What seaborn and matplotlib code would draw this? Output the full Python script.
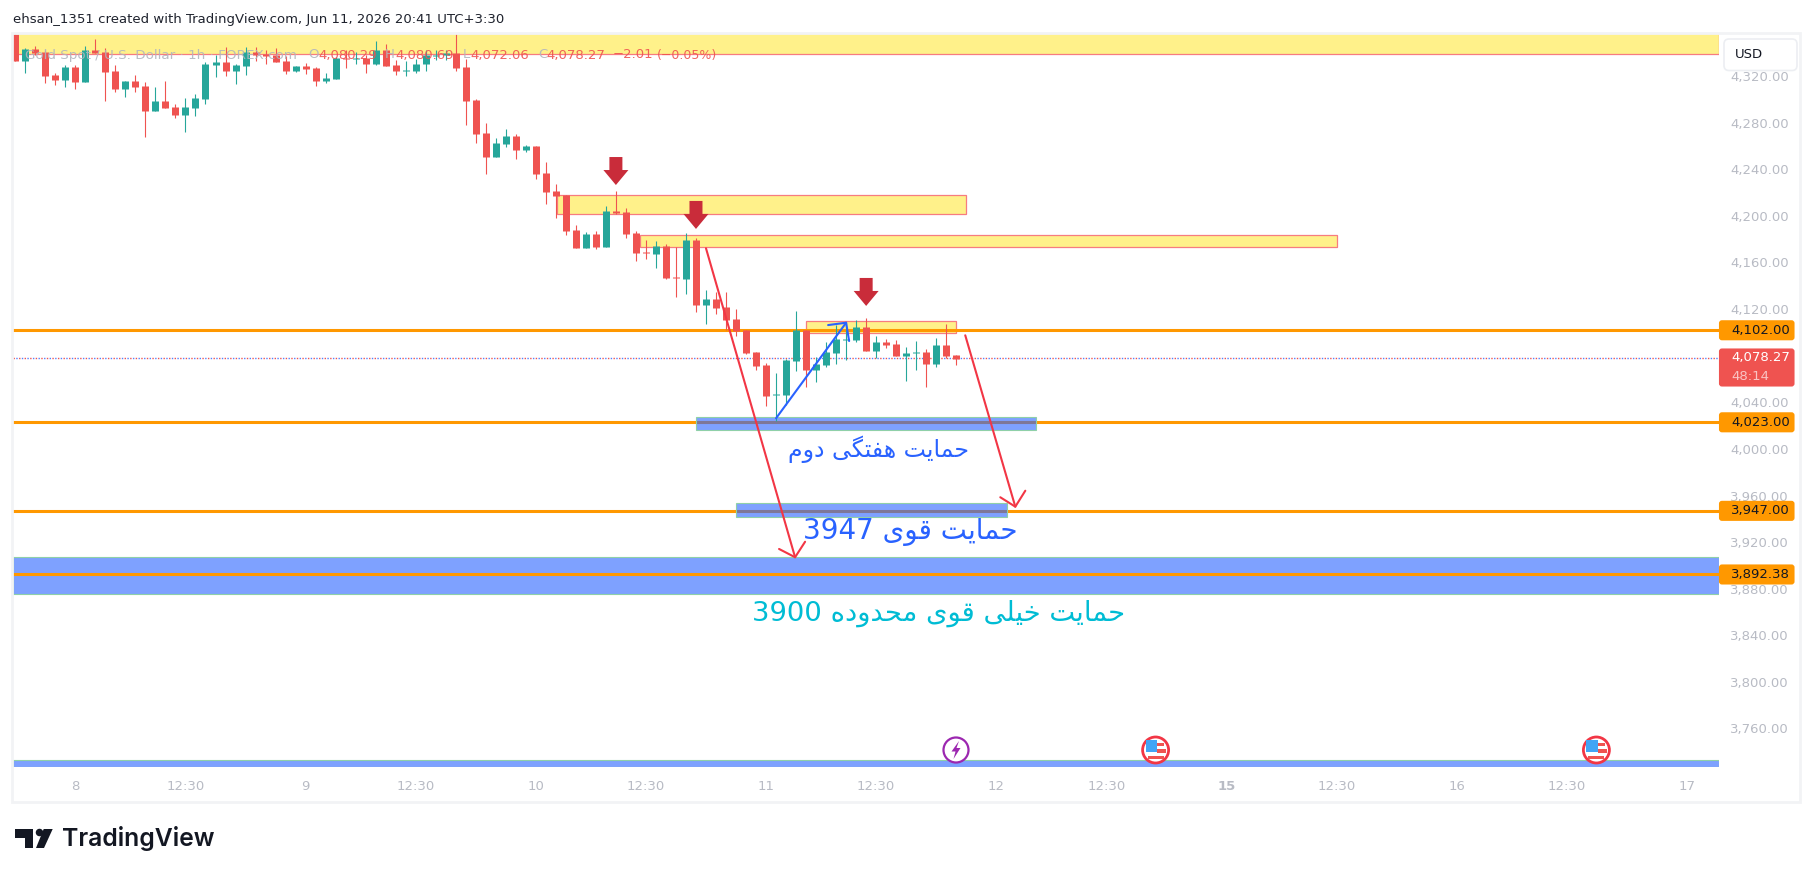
import numpy as np, pandas as pd
import matplotlib
matplotlib.use('Agg')
import matplotlib.pyplot as plt
from matplotlib.patches import Rectangle, Polygon, Ellipse, FancyBboxPatch
import seaborn as sns

# ---- data (hourly XAU/USD candles) ----
opens=[4355.8,4332.9,4343.0,4340.4,4320.9,4316.6,4327.8,4314.9,4342.4,4340.4,4324.4,4308.9,4315.8,4311.5,4290.0,4298.6,4293.5,4286.6,4292.6,4300.3,4329.5,4332.1,4324.4,4328.6,4340.7,4338.9,4338.1,4332.9,4324.4,4328.6,4326.9,4315.8,4317.5,4335.5,4334.7,4335.5,4330.4,4342.4,4329.5,4324.4,4324.4,4330.4,4337.2,4338.1,4339.8,4327.8,4299.5,4271.1,4250.8,4261.7,4268.6,4256.5,4260.0,4236.8,4221.4,4217.9,4187.9,4172.4,4184.4,4173.3,4204.2,4203.3,4185.3,4169.0,4167.3,4174.1,4147.5,4145.8,4179.3,4123.5,4128.6,4121.8,4111.5,4102.0,4083.2,4072.0,4046.2,4046.2,4075.4,4102.0,4067.7,4072.0,4082.3,4093.5,4093.5,4104.6,4084.0,4091.7,4090.0,4079.7,4082.0,4083.2,4072.9,4089.2,4080.6]
highs=[4356.7,4343.8,4345.8,4342.4,4322.9,4329.2,4329.5,4345.8,4351.8,4344.1,4329.5,4315.8,4320.9,4314.9,4310.6,4315.8,4296.0,4301.2,4304.6,4332.1,4338.1,4345.0,4330.4,4345.0,4345.0,4342.4,4344.1,4337.2,4328.6,4331.2,4327.8,4322.6,4336.7,4342.4,4340.7,4338.1,4350.1,4347.5,4333.8,4332.9,4334.4,4342.4,4342.4,4342.4,4356.7,4334.4,4300.3,4279.7,4266.6,4274.3,4270.3,4261.1,4260.0,4246.2,4227.4,4217.9,4192.2,4186.2,4187.0,4208.5,4221.4,4206.8,4187.0,4179.3,4178.4,4175.9,4173.3,4185.3,4181.0,4136.4,4134.7,4134.7,4120.1,4102.0,4083.2,4073.7,4065.1,4077.1,4118.3,4102.0,4078.9,4091.7,4106.3,4107.8,4110.6,4112.3,4096.9,4094.3,4093.5,4087.4,4092.6,4085.7,4095.2,4107.2,4080.6]
lows=[4332.9,4322.9,4338.1,4314.1,4312.6,4310.6,4308.9,4314.9,4339.5,4298.6,4306.3,4302.0,4306.3,4267.7,4290.0,4292.6,4284.0,4272.0,4285.7,4296.0,4319.2,4320.1,4313.2,4320.9,4332.9,4330.4,4332.1,4321.8,4323.5,4321.8,4311.5,4314.1,4317.5,4326.9,4330.4,4322.6,4329.5,4328.6,4320.9,4320.1,4322.6,4324.4,4333.8,4333.8,4324.4,4278.0,4262.6,4235.9,4250.8,4259.4,4248.8,4254.8,4231.7,4210.2,4198.2,4183.6,4172.4,4172.4,4171.6,4173.3,4201.6,4181.0,4161.3,4163.0,4155.3,4145.8,4130.4,4132.9,4117.5,4107.2,4115.8,4102.0,4096.9,4081.4,4067.7,4036.8,4023.9,4037.7,4066.8,4053.1,4057.4,4070.3,4072.9,4076.3,4091.7,4084.0,4078.0,4086.6,4079.7,4058.3,4067.7,4053.1,4070.3,4078.0,4072.0]
closes=[4332.9,4343.0,4340.1,4320.1,4316.6,4327.8,4314.9,4342.4,4339.5,4323.5,4308.9,4315.8,4310.6,4290.0,4298.6,4292.6,4286.6,4293.5,4301.2,4330.4,4332.1,4324.4,4329.5,4340.7,4338.1,4337.2,4332.1,4324.4,4328.6,4326.1,4315.8,4318.3,4335.5,4334.7,4335.5,4330.4,4342.4,4328.6,4324.4,4325.2,4330.4,4338.1,4338.1,4339.5,4326.9,4298.6,4270.3,4250.5,4262.3,4268.6,4256.5,4260.0,4235.9,4220.5,4217.1,4187.0,4172.4,4184.4,4173.3,4204.2,4202.5,4184.4,4168.1,4168.1,4174.1,4146.7,4146.7,4179.3,4123.5,4128.6,4120.9,4110.6,4101.2,4082.3,4071.1,4045.4,4047.1,4076.3,4102.0,4067.7,4072.9,4083.2,4094.3,4094.3,4104.6,4084.0,4091.7,4089.2,4079.7,4082.3,4083.2,4072.9,4089.2,4079.7,4077.4]

price_lines=[4102.00,4023.00,3947.00,3892.38]
last_price=4078.27
price_ticks=list(range(3760,4321,40))
time_ticks=[6,17,29,40,52,63,75,86,98,109,121,132,144,155,167]
time_labels=['8','12:30','9','12:30','10','12:30','11','12:30','12','12:30','15','12:30','16','12:30','17']
note1='حمایت هفتگی دوم'
note2='حمایت قوی 3947'
note3='حمایت خیلی قوی محدوده 3900'
# resistance / support boxes: first bar, last bar, lower price, upper price
yellow_boxes=[(54.1,95,4201.4,4217.7),(62.4,132,4173,4183.3),(79,94,4099.2,4109.5)]
blue_boxes=[(68,102,4016.5,4027.4),(72,99.1,3941.8,3953.6)]

plt.rcdefaults()
sns.set_theme(style='white')
plt.rcParams['font.family']=['DejaVu Sans']
W,H=1814,877
fig=plt.figure(figsize=(W/100,H/100),dpi=100,facecolor='white')
PL,PR,PT,PB=13,1719,34,767
ax=fig.add_axes([PL/W,1-PB/H,(PR-PL)/W,(PB-PT)/H])
X0,DX=15.3,10.01
Y0,DY=122.7,1.165
xlim=((PL-X0)/DX,(PR-X0)/DX)
ylim=(4280-(PB-Y0)/DY,4280-(PT-Y0)/DY)
ax.set_xlim(xlim);ax.set_ylim(ylim)
sns.despine(ax=ax,left=True,bottom=True,top=True,right=True)

df=pd.DataFrame({'open':opens,'high':highs,'low':lows,'close':closes})
df['bar']=df.index
df['dir']=np.where(df.close>=df.open,'up','down')
wick=pd.concat([df.assign(price=df.low),df.assign(price=df.high)])
body=pd.concat([df.assign(price=df.open),df.assign(price=df.close)])
pal={'up':'#26a69a','down':'#ef5350'}
sns.lineplot(data=wick,x='bar',y='price',hue='dir',units='bar',estimator=None,palette=pal,legend=False,
             lw=0.8,ax=ax,zorder=3,sort=False,solid_capstyle='butt')
sns.lineplot(data=body,x='bar',y='price',hue='dir',units='bar',estimator=None,palette=pal,legend=False,
             lw=5.04,ax=ax,zorder=3.1,sort=False,solid_capstyle='butt')
ax.set_xlim(xlim);ax.set_ylim(ylim)
ax.set_xlabel('');ax.set_ylabel('')

yel='#fff18a';yed='#f77c80'
for x0,x1,p0,p1 in [(xlim[0],xlim[1],4338.7,4400)]+yellow_boxes:
    ax.add_patch(Rectangle((x0,p0),x1-x0,p1-p0,fc=yel,ec=yed,lw=0.9,zorder=1))
for p in price_lines:
    ax.axhline(p,color='#ff9800',lw=2.2,zorder=2)
blue=(41/255,98/255,1,0.6);ged='#8fd0a8'
ax.add_patch(Rectangle((xlim[0],3875.7),xlim[1]-xlim[0],31.5,fc=blue,ec=ged,lw=.8,zorder=1.5))
ax.add_patch(Rectangle((xlim[0],3727),xlim[1]-xlim[0],6,fc=blue,ec=ged,lw=.8,zorder=1.5))
for x0,x1,p0,p1 in blue_boxes:
    ax.add_patch(Rectangle((x0,p0),x1-x0,p1-p0,fc=blue,ec=ged,lw=.8,zorder=2.5))
ax.axhline(last_price,color='#ef5350',lw=1,ls=(0,(1,3)),zorder=2.6)
ax.axhline(last_price,color='#2962ff',lw=1,ls=(2,(1,3)),alpha=.8,zorder=2.6)

def polyline(pts,c,lw):
    a=np.array(pts);ax.plot(a[:,0],a[:,1],color=c,lw=lw,zorder=5,solid_capstyle='round',solid_joinstyle='round')
polyline([(76,4026.3),(83,4108.3)],'#2962ff',1.5)
polyline([(81.2,4106.3),(83,4108.3),(83.3,4092.6)],'#2962ff',1.5)
polyline([(69,4172.2),(77.9,3907)],'#f23645',1.5)
polyline([(76.3,3914.1),(77.9,3907),(78.9,3920.3)],'#f23645',1.5)
polyline([(94.9,4097.5),(99.9,3950.4)],'#f23645',1.5)
polyline([(98.4,3958.5),(99.9,3950.4),(100.9,3964.1)],'#f23645',1.5)

ax.yaxis.tick_right()
ax.set_yticks(price_ticks)
ax.set_yticklabels([f'{p:,.2f}' for p in price_ticks])
ax.set_xticks(time_ticks)
ax.set_xticklabels(time_labels)
ax.tick_params(axis='y',length=0,pad=8,labelsize=9.5,labelcolor='#b8bbc4')
ax.tick_params(axis='x',length=0,pad=9,labelsize=9.5,labelcolor='#b8bbc4')
ax.get_xticklabels()[10].set_fontweight('bold')

ov=fig.add_axes([0,0,1,1],facecolor='none')
ov.set_xlim(0,W);ov.set_ylim(H,0);ov.axis('off')
ov.add_patch(Rectangle((12,33),1788,769,fc='none',ec='#f2f3f5',lw=2))
ov.text(13,20,'ehsan_1351 created with TradingView.com, Jun 11, 2026 20:41 UTC+3:30',fontsize=9.5,color='#1e222d',va='center')

lg='#b2b5be';lr='#ef5350'
for x,t,c,fs in [(25,'Gold Spot / U.S. Dollar · 1h · FOREX.com',lg,9.7),(308,'O',lg,9.5),(318,'4,080.29',lr,9.5),(385,'H',lg,9.5),(395,'4,080.69',lr,9.5),
              (463,'L',lg,9.5),(470,'4,072.06',lr,9.5),(538,'C',lg,9.5),(546,'4,078.27',lr,9.5),(613,'−2.01',lr,9.5),(657,'(−0.05%)',lr,9)]:
    ov.text(x,55,t,fontsize=fs,color=c,va='center',alpha=.9)

for bar,p in [(60,4226.5),(68,4188.8),(85,4122.7)]:
    x=X0+DX*bar;y=Y0+(4280-p)*DY
    ov.add_patch(Polygon([(x,y),(x-12.5,y-15),(x-6.5,y-15),(x-6.5,y-28),(x+6.5,y-28),(x+6.5,y-15),(x+12.5,y-15)],fc='#c92c3a',ec='none'))

FORMS={'ح':(0xFEA1,0xFEA2,0xFEA3,0xFEA4),'م':(0xFEE1,0xFEE2,0xFEE3,0xFEE4),'ا':(0xFE8D,0xFE8E,None,None),
 'ی':(0xFBFC,0xFBFD,0xFBFE,0xFBFF),'ت':(0xFE95,0xFE96,0xFE97,0xFE98),'ه':(0xFEE9,0xFEEA,0xFEEB,0xFEEC),
 'ف':(0xFED1,0xFED2,0xFED3,0xFED4),'گ':(0xFB92,0xFB93,0xFB94,0xFB95),'د':(0xFEA9,0xFEAA,None,None),
 'و':(0xFEED,0xFEEE,None,None),'ق':(0xFED5,0xFED6,0xFED7,0xFED8),'خ':(0xFEA5,0xFEA6,0xFEA7,0xFEA8),'ل':(0xFEDD,0xFEDE,0xFEDF,0xFEE0)}
def shape_word(w):
    if w[0] not in FORMS: return w
    out=[]
    for i,ch in enumerate(w):
        f=FORMS[ch]
        prev=i>0 and FORMS[w[i-1]][2] is not None
        nxt=i<len(w)-1 and f[2] is not None
        out.append(chr(f[3] if prev and nxt else f[1] if prev else f[2] if nxt else f[0]))
    return ''.join(reversed(out))
def shape(s): return ' '.join(shape_word(w) for w in reversed(s.split()))
fa=['DejaVu Sans']
ov.text(879,449,shape(note1),fontsize=17,color='#2962ff',ha='center',va='center',family=fa)
ov.text(910.5,532,shape(note2),fontsize=20,color='#2962ff',ha='center',va='center',family=fa)
ov.text(938.5,613,shape(note3),fontsize=19.7,color='#00bcd4',ha='center',va='center',family=fa)

def tag(y0,y1,c):
    ov.add_patch(FancyBboxPatch((1720,y0+1.5),73.5,y1-y0-3,boxstyle='round,pad=0,rounding_size=2',mutation_aspect=1,fc=c,ec=c,lw=1.5,zorder=6))
for p in price_lines:
    y=Y0+(4280-p)*DY
    tag(y-10.3,y+10.7,'#ff9800')
    ov.text(1731,y+.3,f'{p:,.2f}',fontsize=9.5,color='#131722',va='center',zorder=7)
tag(348,387,'#ef5350')
ov.text(1731,358,f'{last_price:,.2f}',fontsize=9.5,color='white',va='center',zorder=7)
ov.text(1731,376,'48:14',fontsize=9.5,color='#f9c4c4',va='center',zorder=7)
ov.add_patch(FancyBboxPatch((1724,39),73,31.5,boxstyle='round,pad=0,rounding_size=5',fc='white',ec='#eceef2',lw=1.2,zorder=6))
ov.text(1735,55,'USD',fontsize=9.5,color='#131722',va='center',zorder=7)

d='#131722'
ov.add_patch(Polygon([(15.3,829),(33.3,829),(33.3,848),(25,848),(25,838),(15.3,838)],fc=d,ec='none'))
ov.add_patch(Ellipse((39.5,832.5),7.5,7.5,fc=d,ec='none'))
ov.add_patch(Polygon([(43.7,829),(52.7,829),(44,848),(36,848)],fc=d,ec='none'))
ov.text(62,838.5,'TradingView',fontsize=17.8,fontweight='semibold',family='Inter',color=d,va='center')

px=956;py=750
ov.add_patch(Ellipse((px,py),25,25,fc='white',ec='#9c27b0',lw=1.6))
ov.add_patch(Polygon([(px+3,py-9),(px-4.5,py+1.5),(px-.5,py+1.5),(px-2.5,py+9),(px+4.5,py-2),(px+.5,py-2)],fc='#9c27b0',ec='none'))
for fx in (1155.6,1596.4):
    ov.add_patch(Ellipse((fx,py),26,26,fc='white',ec='#f23645',lw=2,zorder=3))
    ov.add_patch(Rectangle((fx-10,py-10),11.5,12,fc='#42a5f5',ec='none',zorder=3.1))
    ov.add_patch(Rectangle((fx+1.5,py-7),7,3,fc='#ef5350',ec='none',zorder=3.1))
    ov.add_patch(Rectangle((fx+1.5,py-1),9,3.5,fc='#ef5350',ec='none',zorder=3.1))
    ov.add_patch(Rectangle((fx-8,py+6),16,3,fc='#ef5350',ec='none',zorder=3.1))

fig.savefig('out.png',dpi=100)
